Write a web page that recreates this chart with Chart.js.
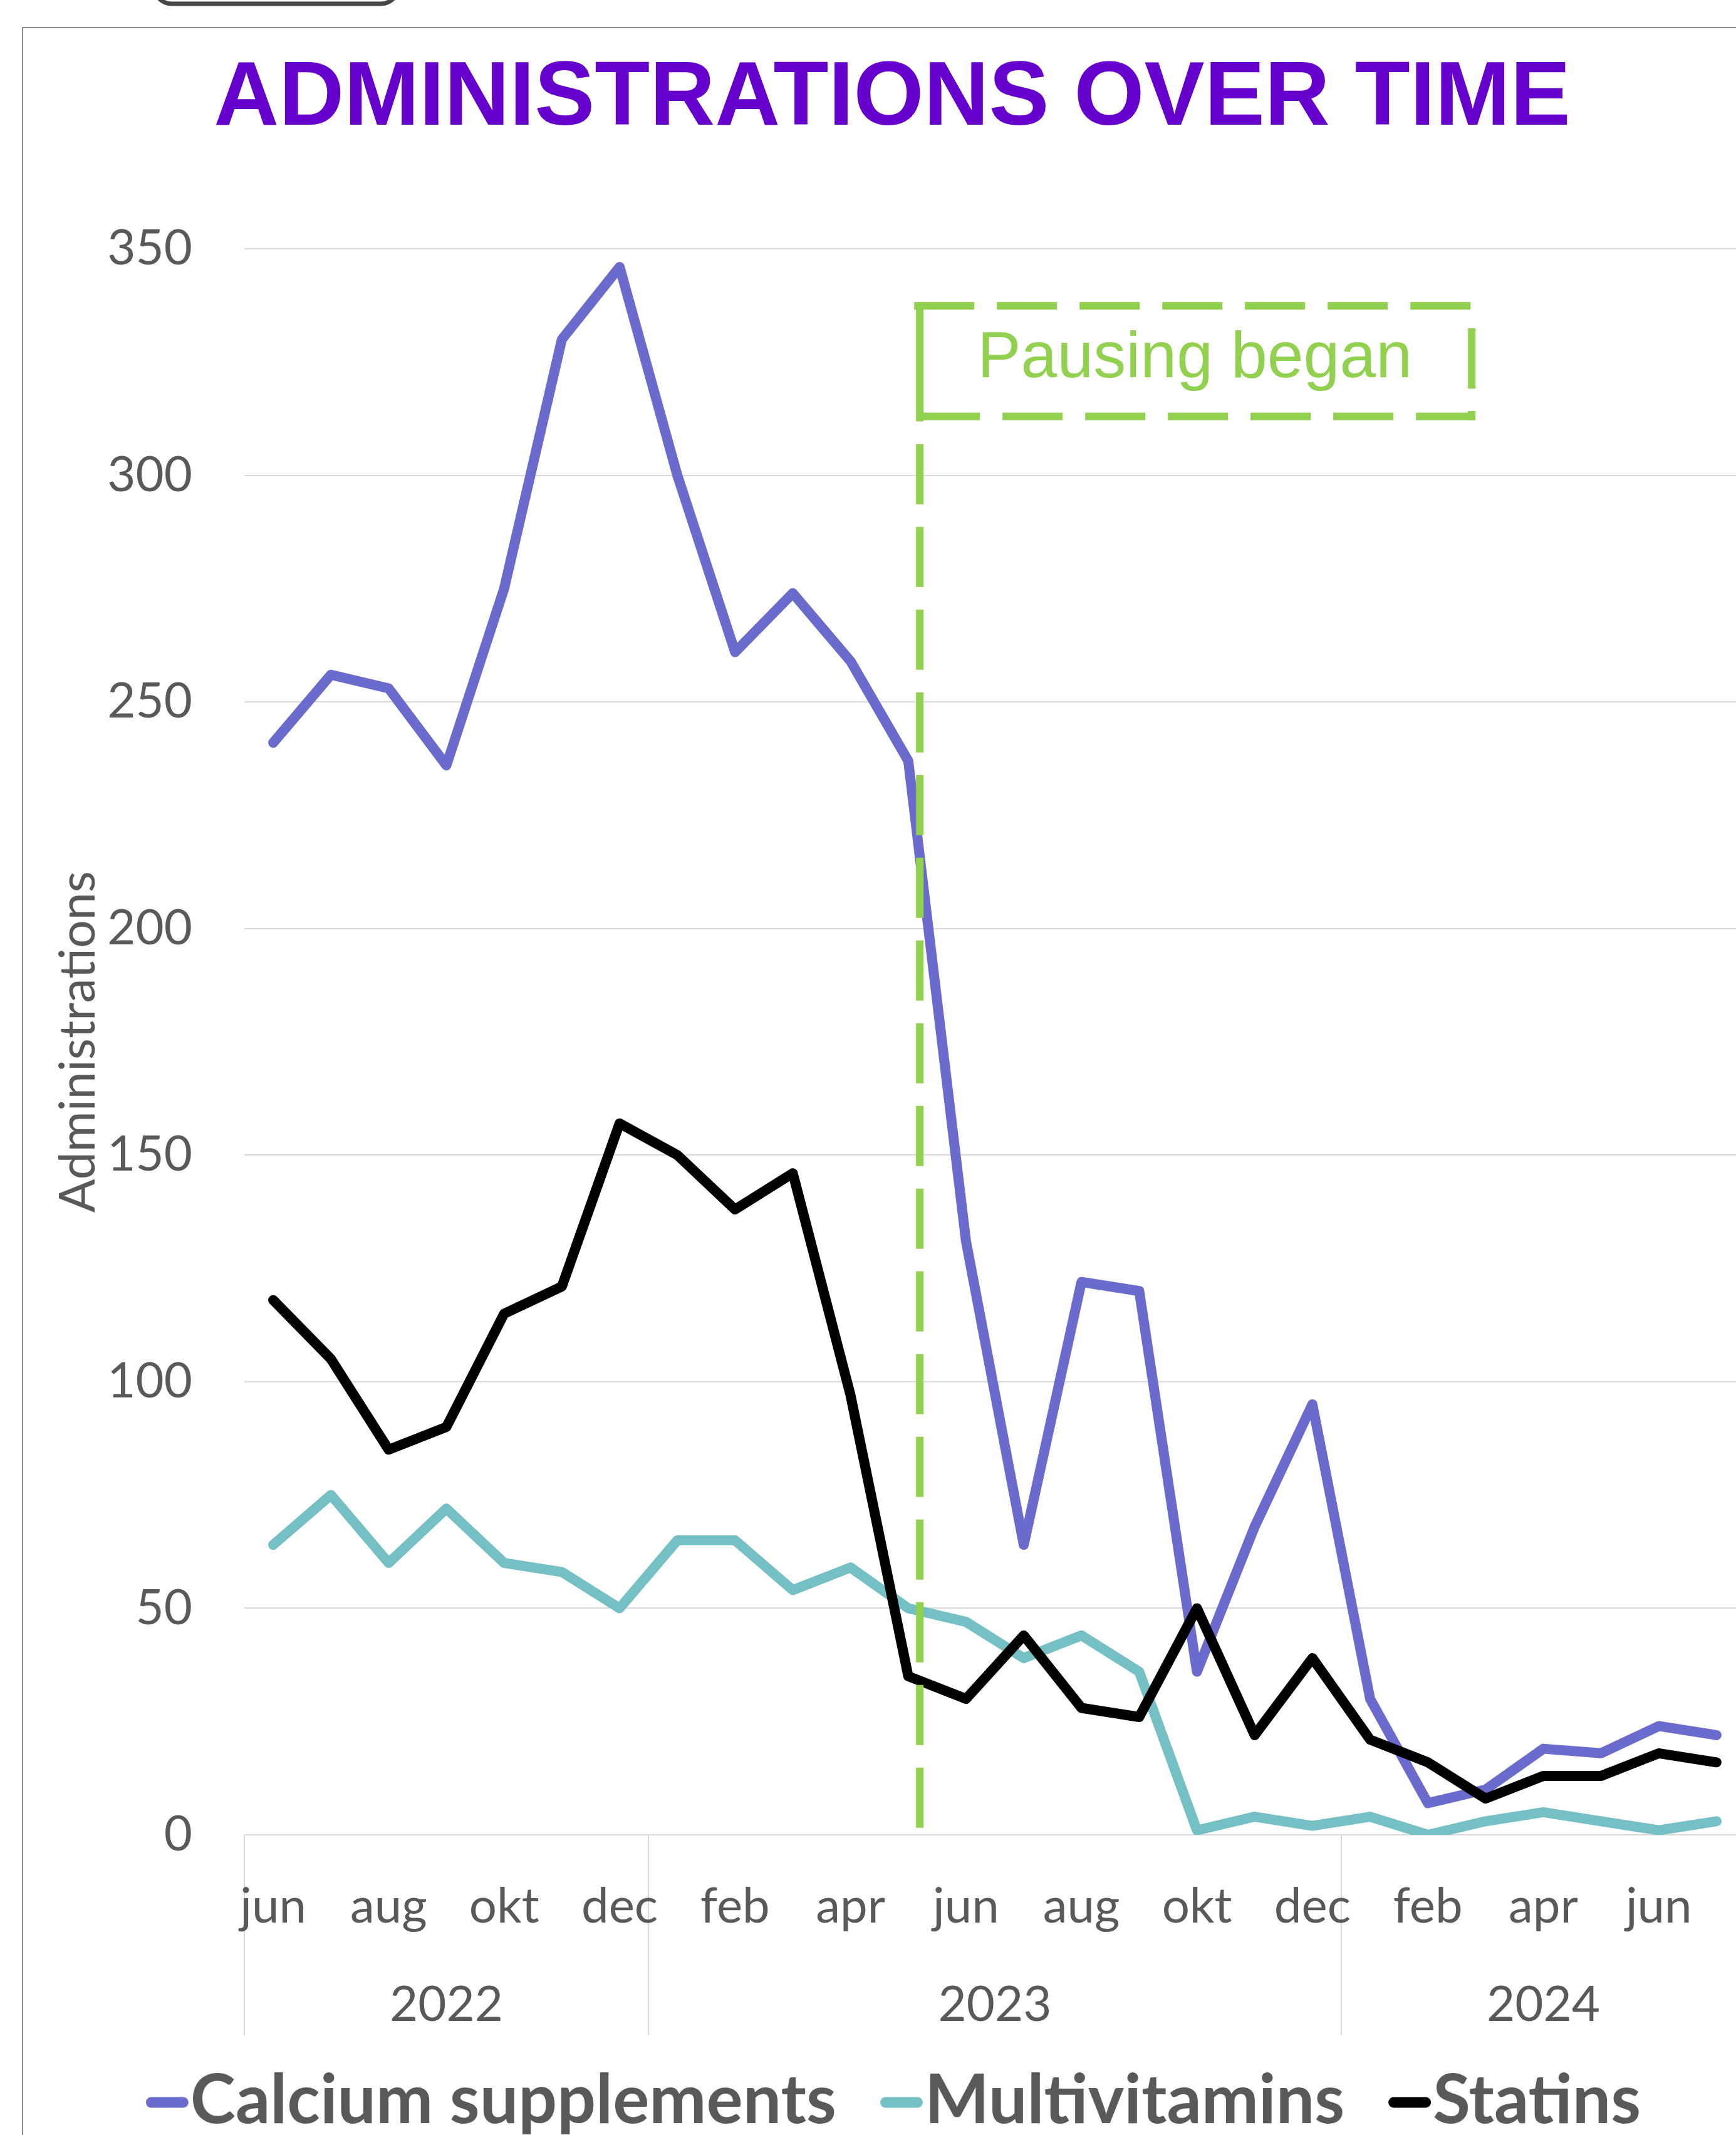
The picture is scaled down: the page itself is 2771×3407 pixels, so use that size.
<!DOCTYPE html>
<html><head><meta charset="utf-8">
<script src="https://cdn.jsdelivr.net/npm/chart.js@4.4.1/dist/chart.umd.min.js"></script>
<style>
html,body{margin:0;padding:0;background:#fff;overflow:hidden;width:2771px;height:3407px;}
#wrap{position:absolute;left:0;top:0;width:2830px;height:3407px;}
canvas{display:block;}
</style></head><body>
<div id="wrap"><canvas id="c" width="2830" height="3407" style="width:2830px;height:3407px"></canvas></div>
<script>
// ---- data ----
const monthLabels = ['jun','jul','aug','sep','okt','nov','dec','jan','feb','mar','apr','maj','jun','jul','aug','sep','okt','nov','dec','jan','feb','mar','apr','maj','jun','jul'];
const yearLabels = ['2022','2023','2024'];
const yearGroupSizes = [7, 12, 7];
const calcium = [241,256,253,236,275,330,346,300,261,274,259,237,131,64,122,120,36,68,95,30,7,10,19,18,24,22];
const multivitamins = [64,75,60,72,60,58,50,65,65,54,59,50,47,39,44,36,1,4,2,4,0,3,5,3,1,3];
const statins = [118,105,85,90,115,121,157,150,138,146,97,35,30,44,28,26,50,22,39,21,16,8,13,13,18,16];
const seriesNames = ['Calcium supplements','Multivitamins','Statins'];
const seriesColors = ['#6B6BCD','#74C0C4','#000000'];
const yMin = 0, yMax = 350, yStep = 50;
const titleText = 'ADMINISTRATIONS OVER TIME';
const yAxisTitle = 'Administrations';
const pauseLabel = 'Pausing began';

// annotation placement (in data units)
const pauseIndex = 11.2, boxRightIndex = 20.76, boxTopVal = 337.4, boxBottomVal = 313.0, pauseLineStartVal = 306.9;

const GRAY = '#595959';
const GREEN = '#92D050';

const deco = {
  id: 'deco',
  beforeDraw(chart) {
    const ctx = chart.ctx;
    ctx.save();
    ctx.fillStyle = '#fff';
    ctx.fillRect(0, 0, chart.width, chart.height);
    // frame
    ctx.strokeStyle = '#8C8C8C';
    ctx.lineWidth = 2;
    ctx.beginPath();
    ctx.moveTo(36, 3407); ctx.lineTo(36, 44); ctx.lineTo(chart.width, 44);
    ctx.stroke();
    // partial rounded button at top
    ctx.strokeStyle = '#474747';
    ctx.lineWidth = 7;
    ctx.beginPath();
    ctx.roundRect(246, -80, 390, 86, 28);
    ctx.stroke();
    // title
    ctx.fillStyle = '#6600CC';
    ctx.font = 'bold 144px "Liberation Sans"';
    ctx.textAlign = 'center';
    ctx.textBaseline = 'alphabetic';
    ctx.fillText(titleText, 1424, 199);
    // y axis title
    const area = chart.chartArea;
    ctx.save();
    ctx.translate(151, (area.top + area.bottom) / 2);
    ctx.rotate(-Math.PI / 2);
    ctx.fillStyle = GRAY;
    ctx.font = '79px Lato';
    ctx.textAlign = 'center';
    ctx.fillText(yAxisTitle, 0, 0);
    ctx.restore();
    // year group separators and labels
    const xs = chart.scales.x;
    ctx.strokeStyle = '#D9D9D9';
    ctx.lineWidth = 2;
    let start = 0;
    const bounds = [0];
    yearGroupSizes.forEach(n => { start += n; bounds.push(start); });
    bounds.forEach(b => {
      const px = Math.round(xs.getPixelForValue(b - 0.5));
      ctx.beginPath();
      ctx.moveTo(px, area.bottom); ctx.lineTo(px, 3248);
      ctx.stroke();
    });
    ctx.fillStyle = GRAY;
    ctx.font = '78px Lato';
    ctx.textAlign = 'center';
    for (let i = 0; i < yearLabels.length; i++) {
      const a = xs.getPixelForValue(bounds[i] - 0.5), b = xs.getPixelForValue(bounds[i + 1] - 0.5);
      ctx.fillText(yearLabels[i], (a + b) / 2, 3225);
    }
    // legend
    ctx.font = 'bold 109px Lato';
    const markerW = 68, gapMT = 3, gapItems = 70;
    const widths = seriesNames.map(s => ctx.measureText(s).width);
    let total = 0;
    widths.forEach((w, i) => { total += markerW + gapMT + w + (i < widths.length - 1 ? gapItems : 0); });
    let x = 1426 - total / 2;
    ctx.textAlign = 'left';
    seriesNames.forEach((s, i) => {
      ctx.strokeStyle = seriesColors[i];
      ctx.lineWidth = 17;
      ctx.lineCap = 'round';
      ctx.beginPath();
      ctx.moveTo(x + 8.5, 3355); ctx.lineTo(x + markerW - 8.5, 3355);
      ctx.stroke();
      ctx.fillStyle = GRAY;
      ctx.fillText(s, x + markerW + gapMT, 3388);
      x += markerW + gapMT + widths[i] + gapItems;
    });
    ctx.restore();
  },
  afterDatasetsDraw(chart) {
    const ctx = chart.ctx;
    const xs = chart.scales.x, ys = chart.scales.y;
    const lx = xs.getPixelForValue(pauseIndex);
    const rx = xs.getPixelForValue(boxRightIndex);
    const ty = ys.getPixelForValue(boxTopVal);
    const by = ys.getPixelForValue(boxBottomVal);
    ctx.save();
    ctx.strokeStyle = GREEN;
    ctx.lineWidth = 12;
    ctx.lineCap = 'butt';
    // vertical dashed line
    ctx.setLineDash([96, 36]);
    ctx.beginPath();
    ctx.moveTo(lx, ys.getPixelForValue(pauseLineStartVal));
    ctx.lineTo(lx, ys.getPixelForValue(yMin) - 10);
    ctx.stroke();
    // box top
    ctx.beginPath(); ctx.moveTo(lx - 9, ty); ctx.lineTo(rx, ty); ctx.stroke();
    // box bottom
    ctx.beginPath(); ctx.moveTo(lx, by); ctx.lineTo(rx + 3, by); ctx.stroke();
    // box right
    ctx.lineDashOffset = 96;
    ctx.beginPath(); ctx.moveTo(rx, ty); ctx.lineTo(rx, by + 6); ctx.stroke();
    // box left solid
    ctx.setLineDash([]);
    ctx.lineDashOffset = 0;
    ctx.beginPath(); ctx.moveTo(lx, ty - 6); ctx.lineTo(lx, by + 8); ctx.stroke();
    // label
    ctx.fillStyle = GREEN;
    ctx.font = '104px "Liberation Sans"';
    ctx.textAlign = 'left';
    ctx.textBaseline = 'alphabetic';
    ctx.fillText(pauseLabel, lx + 92, by - 63);
    ctx.restore();
  }
};

const ds = (label, data, color, order) => ({
  label, data, borderColor: color, backgroundColor: color, borderWidth: 16,
  pointRadius: 0, tension: 0, borderJoinStyle: 'round', borderCapStyle: 'round', fill: false, order
});

new Chart(document.getElementById('c'), {
  type: 'line',
  data: {
    labels: monthLabels,
    datasets: [
      ds(seriesNames[0], calcium, seriesColors[0], 2),
      ds(seriesNames[1], multivitamins, seriesColors[1], 1),
      ds(seriesNames[2], statins, seriesColors[2], 0)
    ]
  },
  options: {
    responsive: false, animation: false, devicePixelRatio: 1,
    layout: { padding: { left: 0, right: 44, top: 397, bottom: 0 } },
    plugins: { legend: { display: false }, title: { display: false }, tooltip: { enabled: false } },
    scales: {
      x: {
        type: 'category', offset: true,
        grid: { display: false }, border: { display: false },
        ticks: {
          autoSkip: false, maxRotation: 0, minRotation: 0, padding: 60,
          font: { family: 'Lato', size: 78 }, color: GRAY,
          callback: (v, i) => (i % 2 === 0 ? monthLabels[i] : '')
        },
        afterFit: s => { s.height = 3407 - 2928; }
      },
      y: {
        min: yMin, max: yMax,
        ticks: { stepSize: yStep, padding: 83, font: { family: 'Lato', size: 78 }, color: GRAY },
        grid: { color: '#D9D9D9', lineWidth: 2, drawTicks: false },
        border: { display: false },
        afterFit: s => { s.width = 390; }
      }
    }
  },
  plugins: [deco]
});
</script>
</body></html>
